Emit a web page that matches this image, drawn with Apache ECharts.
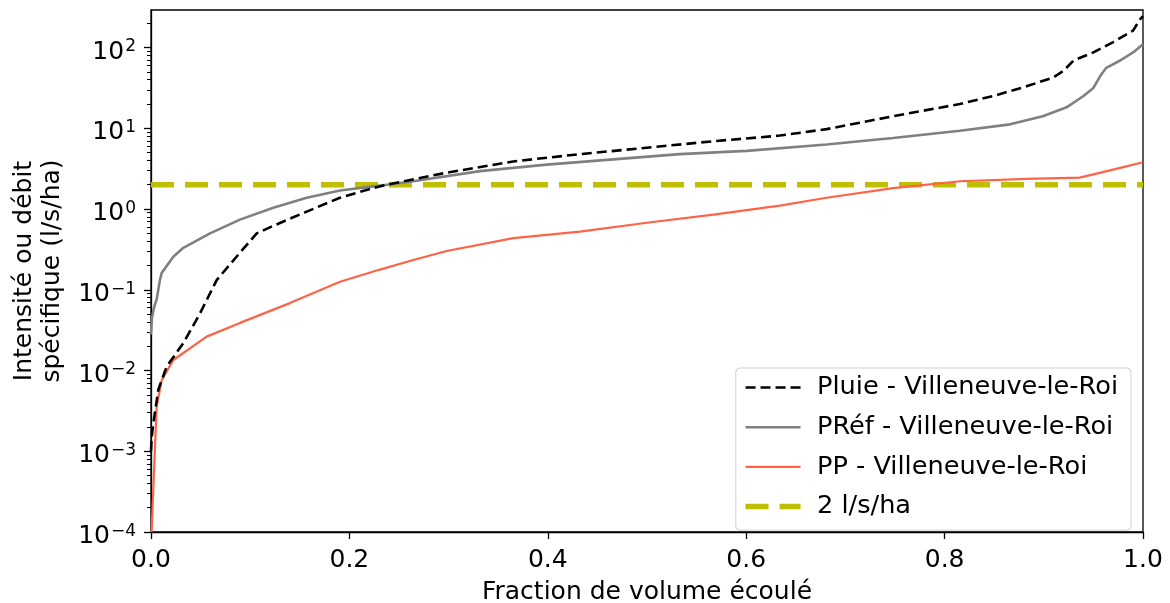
<!DOCTYPE html>
<html>
<head>
<meta charset="utf-8">
<script src="https://cdn.jsdelivr.net/npm/echarts@6/dist/echarts.min.js"></script>
<style>html,body{margin:0;padding:0;background:#fff}#c{width:1170px;height:603px}</style>
</head>
<body>
<div id="c"></div>
<script>
// ---- data ----
const seriesNames = ['Pluie - Villeneuve-le-Roi', 'PRéf - Villeneuve-le-Roi', 'PP - Villeneuve-le-Roi', '2 l/s/ha'];

const pluieX = [0, 0.0007, 0.0023, 0.0074, 0.0158, 0.0326, 0.0494, 0.0662, 0.0897, 0.1066, 0.1233, 0.157, 0.1905, 0.224, 0.2376, 0.298, 0.3652, 0.4325, 0.4997, 0.567, 0.634, 0.681, 0.748, 0.8155, 0.849, 0.8825, 0.9096, 0.9197, 0.930, 0.950, 0.970, 0.990, 0.997, 1.0];
const pluieY = [0.001, 0.0015, 0.0022, 0.0058, 0.0112, 0.0219, 0.051, 0.132, 0.288, 0.50, 0.62, 0.93, 1.38, 1.82, 2.0, 2.82, 3.89, 4.79, 5.75, 6.92, 8.13, 9.77, 14.1, 20.0, 25.1, 33.1, 42.7, 51.3, 69.2, 87.1, 117, 162, 224, 245];

const prefX = [0, 0.001, 0.003, 0.0057, 0.009, 0.0108, 0.0225, 0.0326, 0.0595, 0.0897, 0.1233, 0.157, 0.1905, 0.224, 0.2376, 0.2644, 0.3317, 0.3989, 0.466, 0.533, 0.6005, 0.681, 0.748, 0.8155, 0.866, 0.899, 0.923, 0.940, 0.950, 0.957, 0.963, 0.977, 0.990, 1.0];
const prefY = [0.028, 0.045, 0.060, 0.076, 0.132, 0.162, 0.257, 0.331, 0.50, 0.74, 1.035, 1.38, 1.70, 1.91, 2.0, 2.21, 2.95, 3.55, 4.12, 4.79, 5.25, 6.31, 7.59, 9.33, 11.2, 14.1, 18.2, 25.1, 31.6, 44.7, 56.2, 69.2, 87.1, 110];

const ppX = [0.0006, 0.004, 0.0057, 0.0108, 0.0225, 0.0561, 0.0897, 0.140, 0.1905, 0.2308, 0.2644, 0.298, 0.3652, 0.4325, 0.4997, 0.567, 0.634, 0.681, 0.748, 0.8155, 0.8825, 0.936, 0.950, 0.977, 1.0];
const ppY = [0.0001, 0.00112, 0.00355, 0.0076, 0.0135, 0.0263, 0.0389, 0.0684, 0.126, 0.178, 0.234, 0.302, 0.437, 0.525, 0.676, 0.851, 1.10, 1.38, 1.82, 2.21, 2.37, 2.45, 2.69, 3.24, 3.80];

const thresholdX = [0, 1];
const thresholdY = [2, 2];

const xTicks = [0, 0.2, 0.4, 0.6, 0.8, 1.0];
const yMajorTicks = [1e-4, 1e-3, 1e-2, 1e-1, 1, 10, 100];
const yMinorTicks = [];
for (let d = -4; d <= 2; d++) {
  for (let m = 2; m <= 9; m++) {
    const v = +(m * Math.pow(10, d)).toPrecision(6);
    if (v < 292) yMinorTicks.push(v);
  }
}
const yMin = 1e-4, yMax = 292;

function pairs(xs, ys) { return xs.map((x, i) => [x, ys[i]]); }

const FONT = 'DejaVu Sans';
const FS = 25;
const chart = echarts.init(document.getElementById('c'), null, { renderer: 'canvas' });

const supFmt = v => {
  const e = Math.round(Math.log10(v));
  return '{b|10}{s|' + (e < 0 ? '\u2212' + (-e) : String(e)) + '}';
};

const styles = [
  { color: '#000000', width: 2.6, type: [10, 5] },
  { color: '#808080', width: 2.6, type: 'solid' },
  { color: '#ff6347', width: 2.2, type: 'solid' },
  { color: '#bfbf00', width: 5.5, type: [23, 11] }
];

chart.setOption({
  animation: false,
  backgroundColor: '#fff',
  textStyle: { fontFamily: FONT },
  grid: { left: 151, right: 27, top: 10, bottom: 71, show: true, borderColor: '#000', borderWidth: 1.3, containLabel: false, outerBoundsMode: 'none' },
  legend: {
    orient: 'vertical',
    right: 39, top: 368,
    data: seriesNames.map((n, i) => ({ name: n, itemStyle: { opacity: 0 }, lineStyle: { width: styles[i].width, type: styles[i].type, color: styles[i].color, cap: 'butt' } })),
    itemWidth: 55, itemHeight: 14, itemGap: 8.7,
    itemStyle: { opacity: 0 },
    padding: [4, 13, 8, 7],
    backgroundColor: 'rgba(255,255,255,0.85)',
    borderColor: '#d0d0d0', borderWidth: 1, borderRadius: 4,
    textStyle: { fontFamily: FONT, fontSize: 25.6, color: '#000', lineHeight: 28, padding: [3, 0, 0, 11.5] }
  },
  xAxis: {
    type: 'value', min: 0, max: 1, interval: 0.2,
    name: 'Fraction de volume écoulé', nameLocation: 'middle', nameGap: 48,
    nameTextStyle: { fontFamily: FONT, fontSize: FS, color: '#000' },
    axisLine: { lineStyle: { color: '#000', width: 1.3 } },
    axisTick: { show: true, length: 7, lineStyle: { color: '#000', width: 1.3 } },
    axisLabel: { fontFamily: FONT, fontSize: FS, color: '#000', margin: 16, formatter: v => v.toFixed(1) },
    splitLine: { show: false }
  },
  yAxis: [{
    type: 'log', logBase: 10, min: yMin, max: yMax,
    name: 'Intensité ou débit\nspécifique (l/s/ha)', nameLocation: 'middle', nameGap: 84, nameRotate: 90,
    nameTextStyle: { fontFamily: FONT, fontSize: FS, color: '#000', lineHeight: 28.5 },
    axisLine: { show: true, lineStyle: { color: '#000', width: 1.3 } },
    axisTick: { show: true, length: 7, lineStyle: { color: '#000', width: 1.3 }, customValues: yMajorTicks },
    axisLabel: {
      margin: 15, color: '#000', customValues: yMajorTicks, formatter: supFmt,
      rich: {
        b: { fontFamily: FONT, fontSize: FS, color: '#000', verticalAlign: 'bottom', lineHeight: 34 },
        s: { fontFamily: FONT, fontSize: 17, color: '#000', verticalAlign: 'top', padding: [8, 0, 0, 1] }
      }
    },
    splitLine: { show: false }, minorTick: { show: false }
  }, {
    type: 'log', logBase: 10, min: yMin, max: yMax, position: 'left',
    axisLine: { show: false },
    axisTick: { show: true, length: 4, lineStyle: { color: '#000', width: 1 }, customValues: yMinorTicks },
    axisLabel: { show: false },
    splitLine: { show: false }
  }],
  series: [
    { name: seriesNames[0], type: 'line', data: pairs(pluieX, pluieY), showSymbol: false, symbol: 'none', z: 4,
      lineStyle: styles[0], itemStyle: { color: styles[0].color } },
    { name: seriesNames[1], type: 'line', data: pairs(prefX, prefY), showSymbol: false, symbol: 'none', z: 3,
      lineStyle: styles[1], itemStyle: { color: styles[1].color } },
    { name: seriesNames[2], type: 'line', data: pairs(ppX, ppY), showSymbol: false, symbol: 'none', z: 3,
      lineStyle: styles[2], itemStyle: { color: styles[2].color } },
    { name: seriesNames[3], type: 'line', data: pairs(thresholdX, thresholdY), showSymbol: false, symbol: 'none', z: 2,
      lineStyle: Object.assign({ cap: 'butt' }, styles[3]), itemStyle: { color: styles[3].color } }
  ]
});
</script>
</body>
</html>
